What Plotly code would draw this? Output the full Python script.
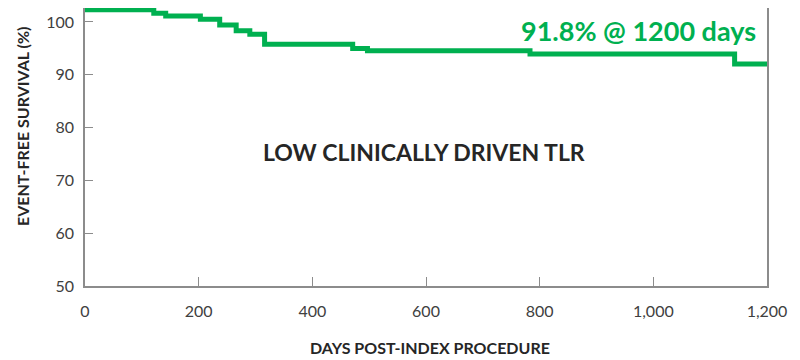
import plotly.graph_objects as go

days = [0, 121, 142, 203, 237, 266, 290, 316, 471, 497, 783, 1143, 1200]
survival = [102.3, 101.65, 101.15, 100.5, 99.45, 98.35, 97.7, 95.8, 95.0, 94.55, 93.95, 92.05, 92.05]

x_ticks = [0, 200, 400, 600, 800, 1000, 1200]
x_tick_labels = ["0", "200", "400", "600", "800", "1,000", "1,200"]
y_ticks = [50, 60, 70, 80, 90, 100]

GREEN = "#00b050"
FONT = "Lato"

fig = go.Figure()
fig.add_trace(go.Scatter(
    x=days, y=survival, mode="lines",
    line=dict(color=GREEN, width=5, shape="hv"),
    hoverinfo="skip", showlegend=False, cliponaxis=False,
))

# page body has an 8px margin, so the figure is drawn 8px right/down
fig.update_layout(
    width=792, height=352,
    margin=dict(l=77, r=33, t=0, b=74, autoexpand=False),
    paper_bgcolor="white", plot_bgcolor="white",
    font=dict(family=FONT, color="#404040"),
    xaxis=dict(
        range=[0, 1200], tickvals=x_ticks, ticktext=x_tick_labels,
        showline=True, linecolor="#8c8c8c", linewidth=1.5,
        ticks="inside", ticklen=9, tickcolor="#8c8c8c", tickwidth=1,
        showgrid=False, zeroline=False, tickfont=dict(size=16, color="#404040"),
        ticklabelstandoff=10, automargin=False,
    ),
    yaxis=dict(
        range=[50, 102.65], tickvals=y_ticks,
        showline=True, linecolor="#8c8c8c", linewidth=1.5, mirror=True,
        ticks="inside", ticklen=8, tickcolor="#8c8c8c", tickwidth=1,
        showgrid=False, zeroline=False, tickfont=dict(size=16, color="#404040"),
        ticklabelstandoff=6, automargin=False,
    ),
    annotations=[
        dict(text="91.8% @ 1200 days", xref="x", yref="y", x=1184, y=98.4,
             xanchor="right", yanchor="middle", showarrow=False,
             font=dict(family=FONT, size=27, color=GREEN, weight="bold")),
        dict(text="LOW CLINICALLY DRIVEN TLR", xref="x", yref="y", x=597, y=75.4,
             xanchor="center", yanchor="middle", showarrow=False,
             font=dict(family=FONT, size=23, color="#262626", weight="bold")),
        dict(text="DAYS POST-INDEX PROCEDURE", xref="paper", yref="paper",
             x=(430 - 85) / 682, y=-(347 - 286) / 278, xanchor="center", yanchor="middle",
             showarrow=False,
             font=dict(family=FONT, size=16, color="#262626", weight="bold")),
        dict(text="EVENT-FREE SURVIVAL (%)", xref="paper", yref="paper",
             x=-(85 - 22) / 682, y=(286 - 127) / 278, xanchor="center", yanchor="middle",
             textangle=-90, showarrow=False,
             font=dict(family=FONT, size=16, color="#262626", weight="bold")),
    ],
)

fig.write_html("out.html")
